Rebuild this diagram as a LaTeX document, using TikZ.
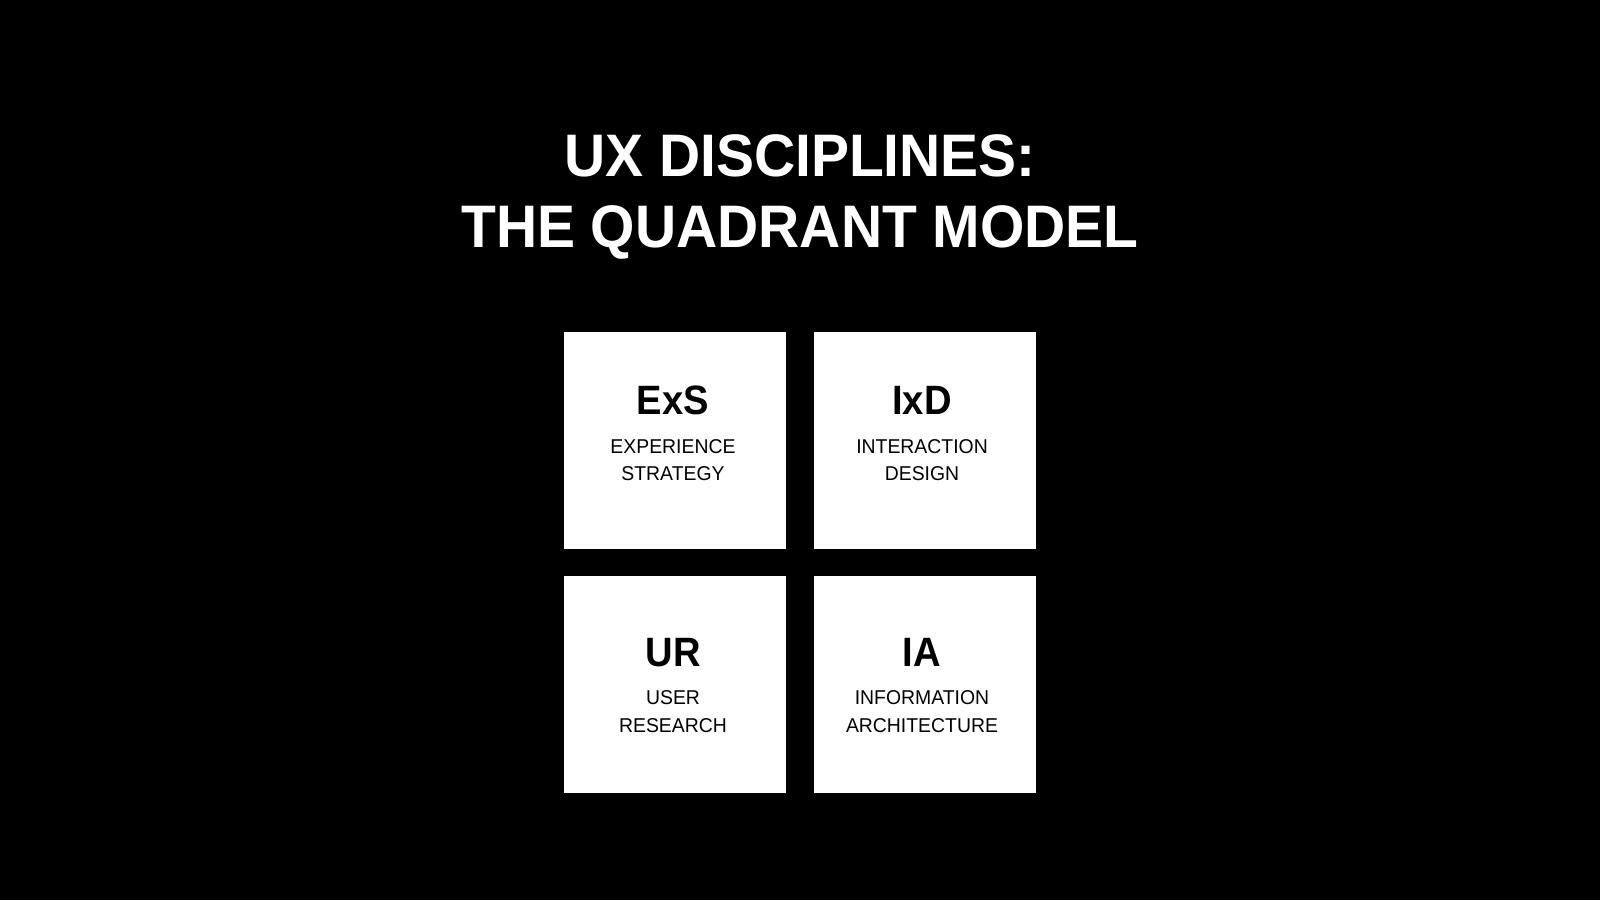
\documentclass[tikz,border=0pt]{standalone}
\usepackage{fontspec}
\newfontfamily\titlefont[FakeStretch=0.95]{Liberation Sans}
\newfontfamily\abbrfont[FakeStretch=0.93]{Liberation Sans}
\newfontfamily\descfont[FakeStretch=0.97]{Liberation Sans}
\begin{document}
\begin{tikzpicture}[x=1pt,y=-1pt,
  tile/.style={fill=white,draw=none,minimum width=222pt,minimum height=217pt,inner sep=0pt,outer sep=0pt},
  abbr/.style={anchor=base,text=black,inner sep=0pt,font=\abbrfont\bfseries\fontsize{41}{45}\selectfont},
  desc/.style={anchor=base,text=black,inner sep=0pt,align=center,font=\descfont\fontsize{20}{27.5}\selectfont},
  title/.style={anchor=base,text=white,inner sep=0pt,align=center,font=\titlefont\bfseries\fontsize{60}{71}\selectfont}]
\fill[black] (0,0) rectangle (1600,900);
\useasboundingbox (0,0) rectangle (1600,900);
\node[title] (t) at (800,247) {UX DISCIPLINES:\\THE QUADRANT MODEL};
\node[tile] (b1) at (675,440.5) {};
\node[tile] (b2) at (925,440.5) {};
\node[tile] (b3) at (675,684.5) {};
\node[tile] (b4) at (925,684.5) {};
\node[abbr] (a1) at (673,414) {ExS};
\node[abbr] (a2) at (922,414) {IxD};
\node[abbr] (a3) at (673,666) {UR};
\node[abbr] (a4) at (922,666) {IA};
\node[desc] (d1) at (673,480.5) {EXPERIENCE\\STRATEGY};
\node[desc] (d2) at (922,480.5) {INTERACTION\\DESIGN};
\node[desc] (d3) at (673,732) {USER\\RESEARCH};
\node[desc] (d4) at (922,732) {INFORMATION\\ARCHITECTURE};
\end{tikzpicture}
\end{document}
